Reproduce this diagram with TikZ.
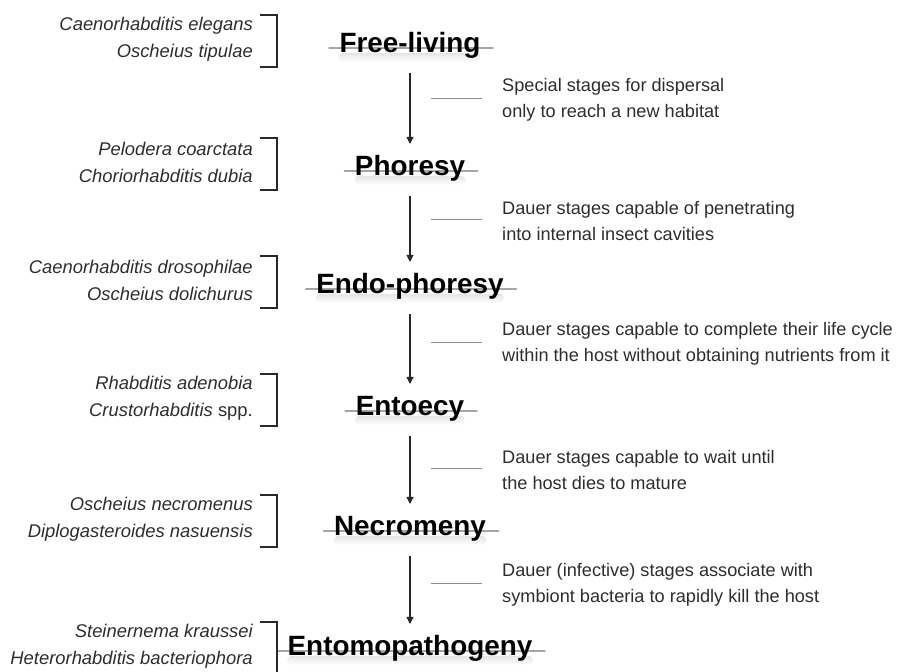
\documentclass[tikz,border=0pt]{standalone}
\usepackage{fontspec}
\setsansfont{Liberation Sans}
\renewcommand{\familydefault}{\sfdefault}
\usetikzlibrary{arrows.meta,backgrounds}
\definecolor{InkGray}{RGB}{40,40,40}
\definecolor{TextGray}{RGB}{45,45,45}
\definecolor{TickGray}{RGB}{140,140,140}
\definecolor{SmudgeGray}{RGB}{165,165,165}
\tikzset{
  stage/.style={font=\bfseries\fontsize{23.8}{28}\selectfont,text=black,
    inner sep=0pt,text height=0.75em,text depth=0.22em,anchor=base},
  species/.style={font=\itshape\fontsize{15.7}{23}\selectfont,text=TextGray,
    align=right,inner sep=0pt,anchor=east},
  note/.style={font=\fontsize{15.5}{21.8}\selectfont,text=TextGray,
    align=left,inner sep=0pt,anchor=west},
  flow/.style={-{Triangle[length=6pt,width=6pt]},line width=0.9pt,InkGray,
    shorten <=0.54cm,shorten >=0.66cm},
  tick/.style={TickGray,line width=0.8pt},
  bracket/.style={InkGray,line width=1pt},
  smudge/.style={SmudgeGray,line width=2.2pt,line cap=round}
}

\begin{document}
\begin{tikzpicture}[x=0.03cm,y=0.03cm]
  \useasboundingbox (0,0) rectangle (902,-671);
  \node[stage] (free) at (410,-52) {Free-living};
  \node[stage] (phoresy) at (410,-175) {Phoresy};
  \node[stage] (endo) at (410,-293) {Endo-phoresy};
  \node[stage] (entoecy) at (410,-415) {Entoecy};
  \node[stage] (necro) at (410,-535) {Necromeny};
  \node[stage] (entomo) at (410,-655) {Entomopathogeny};

  \node[species] (sp1) at (253,-39) {Caenorhabditis elegans\\Oscheius tipulae};
  \node[species] (sp2) at (253,-162) {Pelodera coarctata\\Choriorhabditis dubia};
  \node[species] (sp3) at (253,-280) {Caenorhabditis drosophilae\\Oscheius dolichurus};
  \node[species] (sp4) at (253,-398) {Rhabditis adenobia\\Crustorhabditis \textup{spp.}};
  \node[species] (sp5) at (253,-519) {Oscheius necromenus\\Diplogasteroides nasuensis};
  \node[species] (sp6) at (253,-646) {Steinernema kraussei\\Heterorhabditis bacteriophora};

  \node[note] (n1) at (502,-100) {Special stages for dispersal\\only to reach a new habitat};
  \node[note] (n2) at (502,-221) {Dauer stages capable of penetrating\\into internal insect cavities};
  \node[note] (n3) at (502,-344) {Dauer stages capable to complete their life cycle\\within the host without obtaining nutrients from it};
  \node[note] (n4) at (502,-470) {Dauer stages capable to wait until\\the host dies to mature};
  \node[note] (n5) at (502,-585) {Dauer (infective) stages associate with\\symbiont bacteria to rapidly kill the host};

  \foreach \a/\b in {free/phoresy,phoresy/endo,endo/entoecy,entoecy/necro,necro/entomo}
    \draw[flow] (\a) -- (\b);
  \foreach \n in {n1,n2,n3,n4,n5}
    \draw[tick] ([shift={(-20,2)}]\n.west) -- ([shift={(-71,2)}]\n.west);
  \foreach \s in {sp1,sp2,sp3,sp4,sp5,sp6}
    \draw[bracket] ([shift={(7,24)}]\s.east) -- ++(17,0) |- ([shift={(7,-28)}]\s.east);

  \begin{scope}[on background layer]
    \foreach \t in {free,phoresy,endo,entoecy,necro,entomo} {
      \shade[top color=gray!20,bottom color=white,rounded corners=3pt]
        ([shift={(0,-1)}]\t.base west) rectangle ([shift={(0,-10)}]\t.base east);
      \draw[smudge] ([shift={(-10,4)}]\t.base west) -- ([shift={(12,4)}]\t.base east);
    }
  \end{scope}
\end{tikzpicture}
\end{document}
